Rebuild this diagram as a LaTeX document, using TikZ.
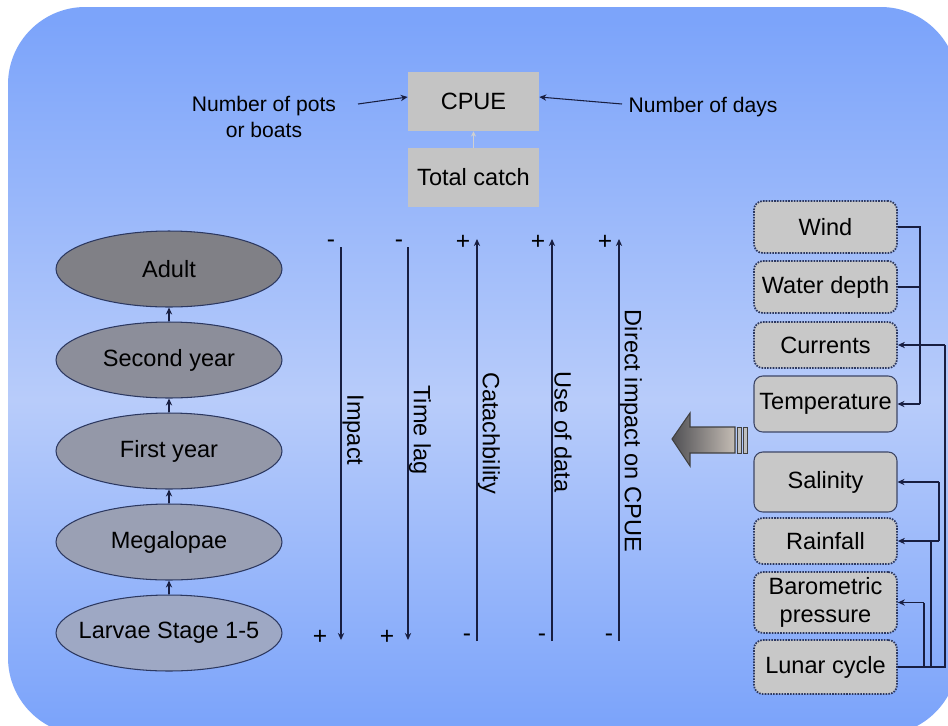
\documentclass[tikz,border=0pt]{standalone}
\usepackage{fontspec}
\setmainfont{Liberation Sans}
\usetikzlibrary{arrows.meta,shapes.geometric}

\definecolor{bgedge}{RGB}{124,164,250}
\definecolor{bgmid}{RGB}{184,204,250}
\definecolor{ink}{RGB}{24,30,64}
\definecolor{boxgray}{RGB}{200,200,200}
\definecolor{catchgray}{RGB}{196,196,196}
\definecolor{rim}{RGB}{44,56,96}

% panel shading: the path spans 25bp..75bp of the declared range
\pgfdeclareverticalshading{panelshade}{100bp}{%
  color(0bp)=(bgedge); color(26bp)=(bgedge); color(48bp)=(bgmid);
  color(74bp)=(bgedge); color(100bp)=(bgedge)}

\tikzset{
  txt/.style={font=\fontsize{13.4}{16}\selectfont, inner sep=0pt},
  sidetxt/.style={font=\fontsize{12}{14.5}\selectfont, inner sep=0pt, align=center},
  sign/.style={font=\fontsize{14}{16}\selectfont, inner sep=0pt},
  tip/.style={-{Stealth[length=4pt,width=3.6pt]}},
  wire/.style={draw=ink, line width=0.6pt},
  arr/.style={wire, tip},
  catchbox/.style={txt, fill=catchgray, minimum width=2.62cm, minimum height=1.18cm},
  factor/.style={txt, fill=boxgray, rounded corners=5pt, minimum width=2.86cm, align=center},
  dotbox/.style={factor, draw=rim, line width=1pt, dash pattern=on 0.9pt off 0.7pt},
  solidbox/.style={factor, draw=rim!80!gray, line width=0.6pt},
  stage/.style={txt, ellipse, draw=rim, line width=0.6pt, minimum width=4.52cm, minimum height=1.52cm},
  vlabel/.style={txt, rotate=-90}
}
\newcommand{\stagetext}[1]{\makebox[0pt]{#1}}

\begin{document}
\begin{tikzpicture}[x=0.02cm, y=-0.02cm]
  \useasboundingbox (0,0) rectangle (948,725);
  \fill[white] (0,0) rectangle (948,725);
  \begin{scope}
    \clip (0,0) rectangle (948,725);
    \shade[shading=panelshade, rounded corners=44pt] (8,7) rectangle (958,735);
  \end{scope}

  % catch per unit effort
  \node[catchbox] (cpue) at (473.5,101.5) {CPUE};
  \node[catchbox] (total) at (473.5,177.5) {Total catch};
  \draw[draw=catchgray!80!white, line width=0.6pt, -{Stealth[length=3pt,width=3pt]}] (total.north) -- (cpue.south);

  \node[sidetxt] (pots) at (264,117) {Number of pots\\or boats};
  \node[sidetxt] (days) at (703,107) {Number of days};
  \coordinate (potsend) at (358,104);
  \coordinate (daysend) at (622,104);
  \draw[arr] (potsend) -- ([yshift=0.09cm]cpue.west);
  \draw[arr] (daysend) -- ([yshift=0.09cm]cpue.east);

  % life stages
  \node[stage, fill={rgb,255:red,128;green,128;blue,134}] (adult) at (169,269) {\stagetext{Adult}};
  \node[stage, fill={rgb,255:red,140;green,142;blue,154}] (second) at (169,360) {\stagetext{Second year}};
  \node[stage, fill={rgb,255:red,148;green,152;blue,168}] (first) at (169,451) {\stagetext{First year}};
  \node[stage, fill={rgb,255:red,154;green,160;blue,180}] (mega) at (169,542) {\stagetext{Megalopae}};
  \node[stage, fill={rgb,255:red,158;green,168;blue,196}] (larvae) at (169,633) {\stagetext{Larvae Stage 1-5}};
  \draw[arr] (larvae.north) -- (mega.south);
  \draw[arr] (mega.north) -- (first.south);
  \draw[arr] (first.north) -- (second.south);
  \draw[arr] (second.north) -- (adult.south);

  % influences on the catch
  \coordinate (impT) at (341,247);  \coordinate (impB) at (341,640);
  \coordinate (lagT) at (408,247);  \coordinate (lagB) at (408,640);
  \coordinate (catT) at (477,239);  \coordinate (catB) at (477,641);
  \coordinate (useT) at (552,239);  \coordinate (useB) at (552,641);
  \coordinate (dirT) at (619,239);  \coordinate (dirB) at (619,641);
  \draw[arr] (impT) -- (impB);
  \draw[arr] (lagT) -- (lagB);
  \draw[arr] (catB) -- (catT);
  \draw[arr] (useB) -- (useT);
  \draw[arr] (dirB) -- (dirT);

  \node[vlabel] (limp) at (353,430) {Impact};
  \node[vlabel] (llag) at (420,430) {Time lag};
  \node[vlabel] (lcat) at (489,433) {Catachbility};
  \node[vlabel] (luse) at (563,432) {Use of data};
  \node[vlabel] (ldir) at (631,431) {Direct impact on CPUE};

  \node[sign] (s1) at (331,244) {-};
  \node[sign] (s2) at (399,244) {-};
  \node[sign] (s3) at (463,242) {+};
  \node[sign] (s4) at (538,242) {+};
  \node[sign] (s5) at (605,242) {+};
  \node[sign] (s6) at (320,637) {+};
  \node[sign] (s7) at (387,637) {+};
  \node[sign] (s8) at (467,638) {-};
  \node[sign] (s9) at (542,638) {-};
  \node[sign] (s10) at (609,638) {-};

  % environmental factors
  \node[dotbox, minimum height=1.04cm] (wind) at (825.5,227) {Wind};
  \node[dotbox, minimum height=1.04cm] (depth) at (825.5,287) {Water depth};
  \node[dotbox, minimum height=0.92cm] (curr) at (825.5,345) {Currents};
  \node[solidbox, minimum height=1.12cm] (temp) at (825.5,404) {Temperature};
  \node[solidbox, minimum height=1.2cm] (sal) at (825.5,482) {Salinity};
  \node[dotbox, minimum height=0.92cm] (rain) at (825.5,541) {Rainfall};
  \node[dotbox, minimum height=1.22cm] (baro) at (825.5,602.5) {Barometric\\pressure};
  \node[dotbox, minimum height=1.08cm] (lunar) at (825.5,667) {Lunar cycle};

  \coordinate (jt) at (920,404);
  \draw[wire] (wind.east) -| (jt);
  \draw[wire] (depth.east) -- (depth.east -| jt);
  \draw[arr] (jt) -- (temp.east);

  \coordinate (jc) at (945,345);
  \draw[wire] (lunar.east) -| (jc);
  \draw[arr] (jc) -- (curr.east);

  \coordinate (jr) at (939,541);
  \coordinate (js) at (939,482);
  \coordinate (jrl) at (931,541);
  \draw[wire] (jrl |- lunar.east) -- (jrl);
  \draw[wire] (jr) -- (js);
  \draw[arr] (jr) -- (rain.east);
  \draw[arr] (js) -- (sal.east);

  \coordinate (jb) at (924,602.5);
  \draw[wire] (jb |- lunar.east) -- (jb);
  \draw[arr] (jb) -- (baro.east);

  % block arrow towards the influences
  \shade[left color={rgb,255:red,80;green,80;blue,84}, right color={rgb,255:red,196;green,188;blue,180}, draw=black!75, line width=0.6pt]
    (672,439) -- (690,413) -- (690,427) -- (735,427) -- (735,453) -- (690,453) -- (690,466) -- cycle;
  \filldraw[fill=black!25, draw=black!75, line width=0.5pt] (737.5,427) rectangle (741,453);
  \filldraw[fill=black!25, draw=black!75, line width=0.5pt] (743.5,427) rectangle (747,453);
\end{tikzpicture}
\end{document}
